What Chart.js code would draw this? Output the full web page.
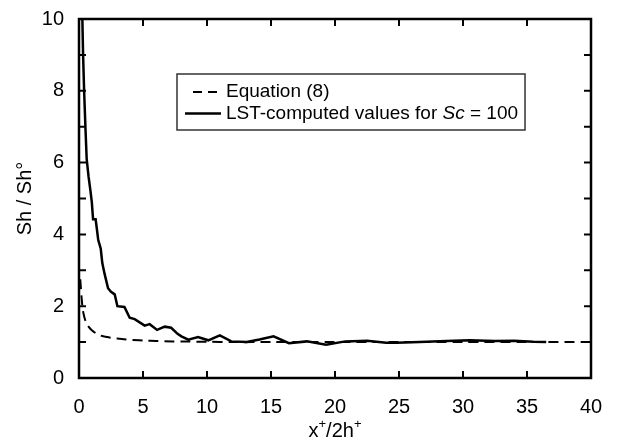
<!DOCTYPE html>
<html>
<head>
<meta charset="utf-8">
<title>Sh / Sh° vs x+/2h+</title>
<script src="https://cdn.jsdelivr.net/npm/chart.js"></script>
<style>
  html, body { margin: 0; padding: 0; background: #fff; }
  #wrap { width: 617px; height: 445px; }
</style>
</head>
<body>
<div id="wrap"><canvas id="chart" width="617" height="445"></canvas></div>
<script>
// Equation (8) curve
const eqX = [0.1, 0.15, 0.2, 0.3, 0.4, 0.5, 0.7, 1.0, 1.3, 1.7, 2.1, 2.5, 3.0, 3.5, 4.2, 5.2, 6.0, 7.3, 8.5, 10, 12, 15, 20, 25, 30, 35, 40];
const eqY = [2.75, 2.5, 2.25, 1.9, 1.72, 1.6, 1.45, 1.33, 1.25, 1.18, 1.15, 1.12, 1.1, 1.08, 1.06, 1.04, 1.03, 1.02, 1.015, 1.01, 1.0, 1.0, 1.0, 1.0, 1.0, 1.0, 1.0];

// LST-computed values for Sc = 100
const lstX = [0.25, 0.32, 0.4, 0.5, 0.6, 0.75, 0.9, 1.0, 1.1, 1.3, 1.38, 1.5, 1.7, 1.82, 2.0, 2.27, 2.5, 2.79, 3.0, 3.55, 3.96, 4.35, 5.13, 5.52, 6.1, 6.7, 7.2, 7.7, 8.0, 8.54, 9.3, 10.1, 11.0, 11.9, 13.1, 14.1, 15.2, 16.4, 17.8, 19.3, 20.8, 22.5, 24.0, 24.8, 26.6, 28.7, 30.5, 32.5, 34.0, 35.5, 36.5];
const lstY = [10.2, 9.0, 8.0, 7.0, 6.1, 5.6, 5.2, 4.9, 4.42, 4.42, 4.2, 3.85, 3.6, 3.2, 2.9, 2.5, 2.4, 2.33, 2.0, 1.98, 1.68, 1.64, 1.46, 1.5, 1.34, 1.43, 1.40, 1.23, 1.16, 1.07, 1.14, 1.05, 1.19, 1.02, 1.0, 1.07, 1.16, 0.97, 1.02, 0.93, 1.02, 1.04, 0.98, 0.98, 1.0, 1.03, 1.05, 1.03, 1.04, 1.01, 1.0];

// axis ticks
const xTicks = [0, 5, 10, 15, 20, 25, 30, 35, 40];
const yTicks = [0, 2, 4, 6, 8, 10];
const yMinorTicks = [1, 3, 5, 7, 9];

const FONT = "'Liberation Sans', Arial, sans-serif";
const LEGEND_SIZE = 19;

const toPoints = (xs, ys) => xs.map((x, i) => ({ x: x, y: ys[i] }));

// frame, inward ticks, axis titles and legend box
const decorations = {
  id: 'decorations',
  afterDraw(chart) {
    const ctx = chart.ctx;
    const a = chart.chartArea;
    const xs = chart.scales.x, ys = chart.scales.y;
    ctx.save();
    ctx.strokeStyle = '#000';
    ctx.lineWidth = 2.5;
    ctx.strokeRect(a.left, a.top, a.right - a.left, a.bottom - a.top);

    // inward ticks
    ctx.lineWidth = 2;
    ctx.beginPath();
    xTicks.forEach(v => {
      const px = xs.getPixelForValue(v);
      ctx.moveTo(px, a.bottom); ctx.lineTo(px, a.bottom - 7);
      ctx.moveTo(px, a.top); ctx.lineTo(px, a.top + 7);
    });
    yTicks.concat(yMinorTicks).forEach(v => {
      const py = ys.getPixelForValue(v);
      ctx.moveTo(a.left, py); ctx.lineTo(a.left + 7, py);
      ctx.moveTo(a.right, py); ctx.lineTo(a.right - 7, py);
    });
    ctx.stroke();

    // y title
    ctx.fillStyle = '#000';
    ctx.font = '20px ' + FONT;
    ctx.textAlign = 'center';
    ctx.textBaseline = 'middle';
    ctx.save();
    ctx.translate(25, (a.top + a.bottom) / 2);
    ctx.rotate(-Math.PI / 2);
    ctx.fillText('Sh / Sh°', 0, 0);
    ctx.restore();

    // x title with superscripts
    const parts = [['x', false], ['+', true], ['/2h', false], ['+', true]];
    const widthOf = p => { ctx.font = (p[1] ? '13px ' : '20px ') + FONT; return ctx.measureText(p[0]).width; };
    let total = parts.reduce((s, p) => s + widthOf(p), 0);
    let cx = (a.left + a.right) / 2 - total / 2;
    ctx.textAlign = 'left';
    ctx.textBaseline = 'alphabetic';
    const base = 437;
    parts.forEach(p => {
      const w = widthOf(p);
      ctx.fillText(p[0], cx, p[1] ? base - 9 : base);
      cx += w;
    });

    // legend
    const lx = 177, ly = 74, rowH = 21.5;
    const f = LEGEND_SIZE + 'px ' + FONT, fi = 'italic ' + LEGEND_SIZE + 'px ' + FONT;
    const t1 = 'LST-computed values for ';
    ctx.font = f;
    const w1 = ctx.measureText(t1).width;
    ctx.font = fi;
    const w2 = ctx.measureText('Sc').width;
    ctx.font = f;
    const w3 = ctx.measureText(' = 100').width;
    const textX = 226;
    const boxW = textX + w1 + w2 + w3 + 7 - lx;
    ctx.fillStyle = '#fff';
    ctx.fillRect(lx, ly, boxW, 56);
    ctx.strokeStyle = '#333';
    ctx.lineWidth = 1.5;
    ctx.strokeRect(lx, ly, boxW, 56);

    const r1 = ly + 18, r2 = r1 + rowH;
    ctx.strokeStyle = '#000';
    ctx.lineWidth = 2;
    ctx.setLineDash([9, 6]);
    ctx.beginPath(); ctx.moveTo(193, r1); ctx.lineTo(219, r1); ctx.stroke();
    ctx.setLineDash([]);
    ctx.lineWidth = 2.5;
    ctx.beginPath(); ctx.moveTo(185, r2); ctx.lineTo(221, r2); ctx.stroke();

    ctx.fillStyle = '#000';
    ctx.textBaseline = 'middle';
    ctx.fillText('Equation (8)', textX, r1);
    ctx.fillText(t1, textX, r2);
    ctx.font = fi;
    ctx.fillText('Sc', textX + w1, r2);
    ctx.font = f;
    ctx.fillText(' = 100', textX + w1 + w2, r2);
    ctx.restore();
  }
};

new Chart(document.getElementById('chart'), {
  type: 'line',
  data: {
    datasets: [
      {
        label: 'Equation (8)',
        data: toPoints(eqX, eqY),
        borderColor: '#000',
        borderWidth: 2,
        borderDash: [10, 6],
        pointRadius: 0,
        tension: 0.3,
        fill: false
      },
      {
        label: 'LST-computed values for Sc = 100',
        data: toPoints(lstX, lstY),
        borderColor: '#000',
        borderWidth: 2.5,
        pointRadius: 0,
        tension: 0,
        fill: false
      }
    ]
  },
  options: {
    responsive: false,
    animation: false,
    layout: { padding: { top: 14, right: 26, left: 0, bottom: 0 } },
    plugins: { legend: { display: false }, tooltip: { enabled: false } },
    scales: {
      x: {
        type: 'linear',
        min: 0, max: 40,
        grid: { display: false },
        border: { display: false },
        afterBuildTicks: s => { s.ticks = xTicks.map(v => ({ value: v })); },
        afterFit: s => { s.height = 67; },
        ticks: { color: '#000', font: { family: FONT, size: 20 }, padding: 9, maxRotation: 0 }
      },
      y: {
        type: 'linear',
        min: 0, max: 10,
        grid: { display: false },
        border: { display: false },
        afterBuildTicks: s => { s.ticks = yTicks.map(v => ({ value: v })); },
        afterFit: s => { s.width = 79; },
        ticks: { color: '#000', font: { family: FONT, size: 20 }, padding: 7 }
      }
    }
  },
  plugins: [decorations]
});
</script>
</body>
</html>
